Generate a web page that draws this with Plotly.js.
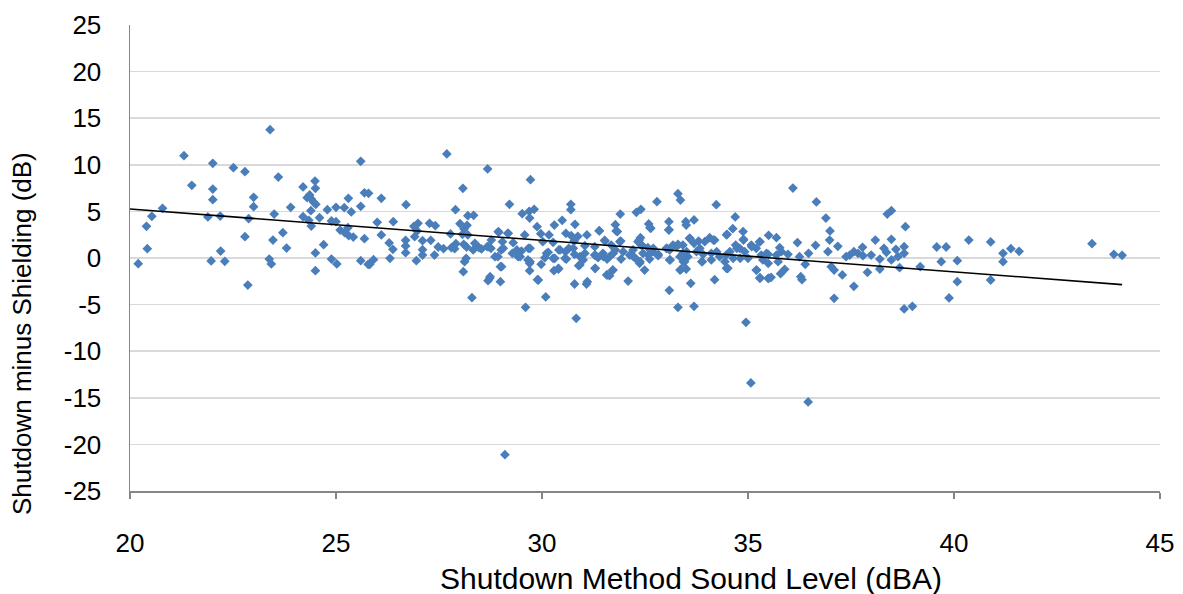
<!DOCTYPE html>
<html>
<head>
<meta charset="utf-8">
<script src="https://cdn.plot.ly/plotly-3.0.1.min.js"></script>
<style>html,body{margin:0;padding:0;background:#fff;}#chart{width:1183px;height:594px;}</style>
</head>
<body>
<div id="chart"></div>
<script>
// Shutdown method sound level (dBA)
const xVals = [
21.31,22.01,22.51,22.79,21.50,22.01,22.01,20.79,20.53,21.89,22.19,22.88,20.40,22.79,20.42,22.20,20.20,21.97,22.30,22.86,
23.40,25.60,23.60,24.20,24.49,24.50,24.36,24.30,24.40,24.46,24.51,23.00,23.00,23.90,24.79,25.00,25.20,25.30,25.60,25.69,
25.79,25.37,24.39,23.50,24.20,24.60,24.34,24.89,25.00,24.40,25.10,25.21,25.29,25.31,25.42,23.71,23.47,25.69,23.80,24.70,
24.50,23.38,23.43,24.89,25.02,25.60,25.78,24.50,
27.69,28.68,26.10,26.70,28.08,27.90,28.20,28.34,26.00,26.39,26.99,27.27,27.41,26.89,28.01,28.18,28.11,26.97,26.10,26.91,
27.78,28.07,28.20,26.29,26.69,27.10,27.30,27.48,27.61,27.80,27.91,27.88,28.10,28.17,28.37,28.33,28.47,28.53,28.67,26.38,
26.69,26.69,27.10,27.10,27.39,26.31,25.91,25.82,26.95,28.16,28.12,28.09,28.30,28.69,
29.72,29.21,29.52,29.69,29.81,29.70,30.70,30.70,30.49,30.30,29.88,30.80,31.39,28.95,29.17,29.58,29.97,30.17,30.58,30.71,
30.87,31.09,31.52,28.77,29.04,29.30,30.02,30.27,30.78,31.04,31.28,28.76,29.01,29.28,29.50,29.71,30.15,30.41,30.57,30.65,
30.79,31.04,31.28,31.48,28.93,29.42,29.66,30.07,30.31,30.59,31.00,31.36,31.58,29.70,28.99,29.98,30.40,30.29,30.89,31.29,
29.70,28.73,28.99,29.89,30.79,31.08,31.10,31.59,30.09,29.60,30.83,
33.30,33.36,32.79,34.23,31.90,32.29,32.40,31.78,31.83,32.59,32.64,33.08,33.08,33.49,33.50,33.69,34.49,31.91,32.39,32.33,
32.41,32.57,33.02,33.18,33.30,33.42,33.58,33.69,33.80,33.95,34.07,34.19,31.68,31.78,31.97,32.13,32.21,32.27,32.45,32.69,
32.82,33.10,33.42,33.54,33.75,33.91,34.11,34.31,34.47,31.64,31.92,32.37,32.49,32.61,33.10,33.38,33.50,33.46,33.89,34.11,
34.49,31.72,31.64,32.09,33.61,34.19,33.09,33.30,33.69,
36.09,36.66,34.69,36.89,34.63,34.88,36.99,35.50,35.69,34.89,35.28,35.08,36.20,36.64,36.98,37.18,34.70,34.80,34.56,35.20,
35.77,35.81,36.94,36.47,34.92,34.64,35.00,35.32,35.49,35.69,35.97,36.25,37.38,35.49,35.36,35.73,36.39,34.51,35.20,35.89,
35.79,37.02,37.09,37.29,35.29,35.50,35.56,36.28,36.31,37.09,34.95,
38.38,38.48,38.82,38.09,38.48,40.36,37.78,37.57,37.47,37.67,37.79,37.99,38.30,38.36,38.59,38.79,38.79,38.64,38.48,38.20,
38.68,38.20,37.90,37.57,39.18,39.58,39.81,39.69,40.08,40.08,39.88,38.79,38.99,
40.89,41.19,41.19,41.38,41.58,40.89,43.35,43.88,44.08,
29.10,35.07,36.46,
31.39,31.80,32.62,33.08,31.53,31.89,32.36,32.42,32.70,33.03,33.27,31.29,31.49,31.73,32.22,32.38,32.58,32.82,33.11,33.35,
31.29,31.57,31.72,33.35,
33.59,34.16,34.48,34.89,35.29,33.51,33.83,34.24,34.73,35.09,35.45,33.43,33.88,34.44,34.81,35.21,34.48,35.29,35.49,
28.94,29.18,28.70,29.06,29.39,29.67,30.11,30.44,30.76,28.86,29.47,30.27,30.56,30.92,29.02,29.71,30.40,30.92,28.74,29.91
];
// Shutdown minus Shielding (dB)
const yVals = [
10.98,10.16,9.69,9.26,7.80,7.40,6.26,5.33,4.47,4.40,4.50,4.22,3.40,2.29,1.00,0.75,-0.61,-0.32,-0.36,-2.90,
13.77,10.37,8.69,7.62,8.26,7.48,6.76,6.47,6.33,5.98,5.76,6.51,5.50,5.44,5.18,5.44,5.40,6.40,5.54,7.00,
6.94,4.94,5.08,4.72,4.43,4.33,4.04,3.97,3.90,3.43,3.00,2.72,3.25,2.40,2.25,2.72,1.93,2.07,1.07,1.43,
0.54,-0.11,-0.64,-0.11,-0.64,-0.29,-0.68,-1.36,
11.16,9.55,6.40,5.72,7.48,5.18,4.54,4.58,3.83,3.90,3.72,3.72,3.47,3.40,3.68,3.51,3.11,2.90,2.47,2.29,
2.58,2.54,2.47,1.61,1.90,1.86,1.90,1.18,1.00,1.11,1.53,1.00,1.47,1.18,1.58,0.86,1.11,0.97,1.21,0.93,
1.29,0.57,0.89,0.32,0.32,-0.04,-0.18,-0.68,-0.29,-0.04,-0.39,-1.47,-4.26,-2.43,
8.40,5.76,4.76,5.01,5.22,4.29,5.76,5.18,4.04,3.54,3.36,3.62,2.90,2.76,2.65,2.47,2.61,2.47,2.65,2.39,
2.33,2.47,1.90,1.93,1.75,1.64,1.75,1.68,1.82,1.32,1.21,1.04,0.86,0.50,0.75,1.04,0.61,0.86,0.68,1.04,
0.40,0.50,0.32,0.50,0.14,0.14,-0.21,0.03,-0.04,-0.11,-0.21,0.03,-0.11,-0.57,-0.93,-0.68,-1.18,-1.36,-0.82,-1.11,
-1.36,-2.18,-2.54,-2.33,-2.79,-2.79,-2.54,-1.82,-4.18,-5.29,-6.47,
6.90,6.22,6.04,5.72,4.72,4.90,5.22,3.58,2.83,3.65,3.18,3.90,3.00,3.90,3.54,4.08,2.54,1.82,2.18,1.75,
1.39,1.11,1.04,1.39,1.47,1.39,2.11,1.58,1.82,1.75,2.18,1.93,1.39,0.86,0.68,0.32,0.86,-0.04,0.50,0.68,
0.40,0.86,0.50,0.14,0.68,0.40,0.50,0.14,0.32,0.14,-0.11,-0.57,-1.29,-0.11,-0.21,-1.18,-1.18,-0.39,-0.39,-0.21,
-1.11,-1.29,-1.90,-2.47,-2.72,-2.33,-3.47,-5.29,-5.18,
7.51,6.01,4.40,4.29,3.15,2.83,2.90,2.43,2.18,2.00,1.72,1.39,1.65,1.36,1.93,1.26,1.39,1.04,0.68,1.04,
1.11,0.68,0.68,0.50,0.68,-0.04,-0.04,0.32,0.40,0.32,0.40,0.14,0.14,-0.57,-0.21,-0.39,-0.68,-1.11,-1.29,-1.22,
-1.68,-0.93,-1.29,-1.82,-2.11,-2.18,-2.07,-2.00,-2.33,-4.33,-6.90,
4.72,5.08,3.36,1.93,2.00,1.93,1.15,0.68,0.32,0.50,0.25,0.32,1.04,0.61,0.93,1.21,0.50,0.14,-0.21,-0.11,
-1.04,-1.18,-1.54,-3.04,-0.93,1.18,1.18,-0.39,-0.29,-2.54,-4.29,-5.47,-5.18,
1.72,0.50,-0.39,1.00,0.72,-2.36,1.53,0.40,0.29,
-21.10,-13.40,-15.45,
2.93,2.90,3.25,3.04,1.82,1.75,1.93,1.39,1.04,1.04,1.21,0.32,0.14,0.50,0.14,-0.39,0.32,0.25,-0.21,0.14,
-1.11,-1.82,-1.29,-1.29,
2.11,1.93,2.47,1.93,1.75,0.68,1.04,0.68,1.04,1.21,0.50,-0.39,-0.39,-0.39,-0.04,-1.29,-1.11,-2.18,-2.18,
2.83,2.65,1.21,1.04,0.86,1.04,0.50,0.86,1.04,0.14,0.14,-0.04,-0.04,0.14,-0.93,-0.39,-1.11,-0.75,-2.00,-2.36
];
// Linear trendline end points
const trendX = [20, 44.08];
const trendY = [5.26, -2.86];
// Tick labels and titles
const xTickVals = [20, 25, 30, 35, 40, 45];
const xTickText = ['20', '25', '30', '35', '40', '45'];
const yTickVals = [-25, -20, -15, -10, -5, 0, 5, 10, 15, 20, 25];
const yTickText = ['-25', '-20', '-15', '-10', '-5', '0', '5', '10', '15', '20', '25'];
const xTitle = 'Shutdown Method Sound Level (dBA)';
const yTitle = 'Shutdown minus Shielding (dB)';

const font = 'Liberation Sans, Arial, sans-serif';
const data = [
  {x: xVals, y: yVals, type: 'scatter', mode: 'markers', hoverinfo: 'x+y',
   marker: {symbol: 'diamond', size: 7.5, color: '#4a7ebb', line: {width: 0}}},
  {x: trendX, y: trendY, type: 'scatter', mode: 'lines',
   line: {color: '#000000', width: 1.6}}
];
const layout = {
  width: 1183, height: 594,
  margin: {l: 130, r: 23, t: 25, b: 103},
  paper_bgcolor: '#ffffff', plot_bgcolor: '#ffffff',
  showlegend: false,
  font: {family: font, size: 26, color: '#000000'},
  xaxis: {
    range: [20, 45], tickvals: xTickVals, ticktext: xTickText,
    showgrid: false, zeroline: false, automargin: false,
    showline: true, linecolor: '#868686', linewidth: 1.5,
    ticks: 'outside', ticklen: 6, tickcolor: '#868686', tickwidth: 1.5,
    ticklabelstandoff: 22,
    tickfont: {family: font, size: 26, color: '#000000'}
  },
  yaxis: {
    range: [-25, 25], tickvals: yTickVals, ticktext: yTickText,
    showgrid: true, gridcolor: '#d9d9d9', gridwidth: 1.5, zeroline: false, automargin: false,
    showline: true, linecolor: '#868686', linewidth: 1.5,
    ticks: '', ticklabelstandoff: 22,
    tickfont: {family: font, size: 26, color: '#000000'}
  },
  annotations: [
    {text: xTitle, xref: 'paper', yref: 'paper', x: 0.5447, y: -0.1867,
     xanchor: 'center', yanchor: 'middle', showarrow: false,
     font: {family: font, size: 30, color: '#000000'}},
    {text: yTitle, xref: 'paper', yref: 'paper', x: -0.1049, y: 0.339,
     xanchor: 'center', yanchor: 'middle', showarrow: false, textangle: -90,
     font: {family: font, size: 26, color: '#000000'}}
  ]
};
Plotly.newPlot('chart', data, layout, {displayModeBar: false, staticPlot: true});
</script>
</body>
</html>
